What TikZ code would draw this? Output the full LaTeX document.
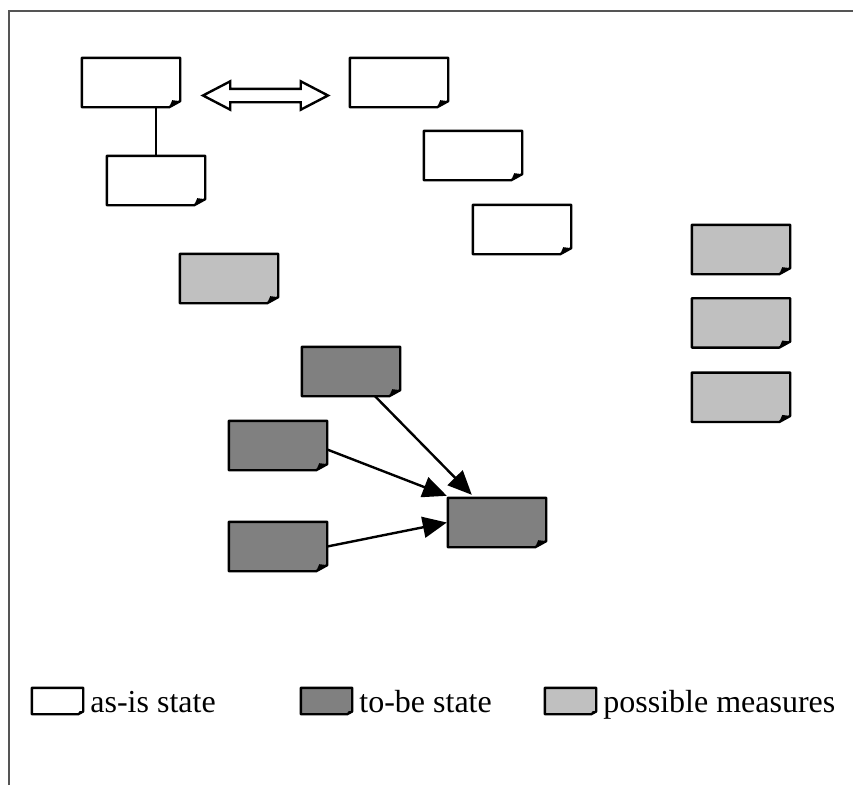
\documentclass[tikz,border=0pt]{standalone}
\usepackage{fontspec}
\setmainfont{Liberation Serif}
\usepackage{xcolor}
\usepackage{tikz}
\usetikzlibrary{arrows.meta,positioning,shapes.arrows}
\definecolor{ToBe}{HTML}{808080}
\definecolor{Measure}{HTML}{C0C0C0}
\definecolor{Frame}{HTML}{555555}

% card with a folded bottom right corner: node, fill, ear size
\newcommand\card[3]{%
  \filldraw[fill=#2,line width=2.4pt,line join=round] (#1.north west) -- (#1.north east)
    -- ([yshift=0.55*#3]#1.south east) -- ([xshift=-#3]#1.south east) -- (#1.south west) -- cycle;
  \fill ([xshift=-#3]#1.south east) -- ([yshift=0.55*#3]#1.south east)
    -- ([xshift=-0.72*#3,yshift=0.64*#3]#1.south east) -- cycle;}

\begin{document}
\begin{tikzpicture}[x=1pt,y=-1pt,>={Triangle[length=24pt,width=21pt]},
  box/.style={minimum width=98pt,minimum height=49pt,inner sep=0pt},
  key/.style={minimum width=51pt,minimum height=26pt,inner sep=0pt},
  keytext/.style={anchor=base west,inner sep=0pt,font=\fontsize{32}{36}\selectfont}]
\useasboundingbox (0,0) rectangle (853,785);
\draw[Frame,line width=1.8pt] (9,785) -- (9,11) -- (853,11);
% as-is state
\node[box] (A1) at (131,82.5) {};
\node[box] (A2) at (156,180.5) {};
\node[box] (B1) at (399,82.5) {};
\node[box] (B2) at (473,155.5) {};
\node[box] (B3) at (522,229.5) {};
% possible measures
\node[box] (M0) at (229,278.5) {};
\node[box] (M1) at (741,249.5) {};
\node[box,below=24pt of M1] (M2) {};
\node[box,below=25pt of M2] (M3) {};
% to-be state
\node[box] (T1) at (351,371.5) {};
\node[box] (T2) at (278,445.5) {};
\node[box] (T3) at (278,546.5) {};
\node[box] (T4) at (497,522.5) {};
\foreach \n in {A1,A2,B1,B2,B3} {\card{\n}{white}{11pt}}
\foreach \n in {M0,M1,M2,M3} {\card{\n}{Measure}{11pt}}
\foreach \n in {T1,T2,T3,T4} {\card{\n}{ToBe}{11pt}}
\node[double arrow,draw,line width=2.4pt,fill=white,inner xsep=0pt,inner ysep=5.5pt,minimum height=125pt,
  double arrow head extend=7.5pt,double arrow tip angle=55] (swap) at (265.5,95.5) {};
\draw[line width=2.4pt] (A2.north) -- (A2.north |- A1.south);
\draw[->,line width=2.4pt] ([xshift=24pt]T1.south) -- ([xshift=24pt,yshift=3pt]T4.north west);
\draw[->,line width=2.4pt] ([yshift=-4pt]T2.east) -- ([xshift=-1pt,yshift=2pt]T4.north west);
\draw[->,line width=2.4pt] (T3.east) -- ([xshift=-1pt]T4.west);
% legend
\node[key] (K1) at (57.5,701) {};
\node[key] (K2) at (326.5,701) {};
\node[key] (K3) at (570.5,701) {};
\card{K1}{white}{5pt}
\card{K2}{ToBe}{5pt}
\card{K3}{Measure}{5pt}
\node[keytext] (L1) at ([xshift=7pt,yshift=2pt]K1.south east) {as-is state};
\node[keytext] (L2) at ([xshift=7pt,yshift=2pt]K2.south east) {to-be state};
\node[keytext] (L3) at ([xshift=7pt,yshift=2pt]K3.south east) {possible measures};
\end{tikzpicture}
\end{document}
